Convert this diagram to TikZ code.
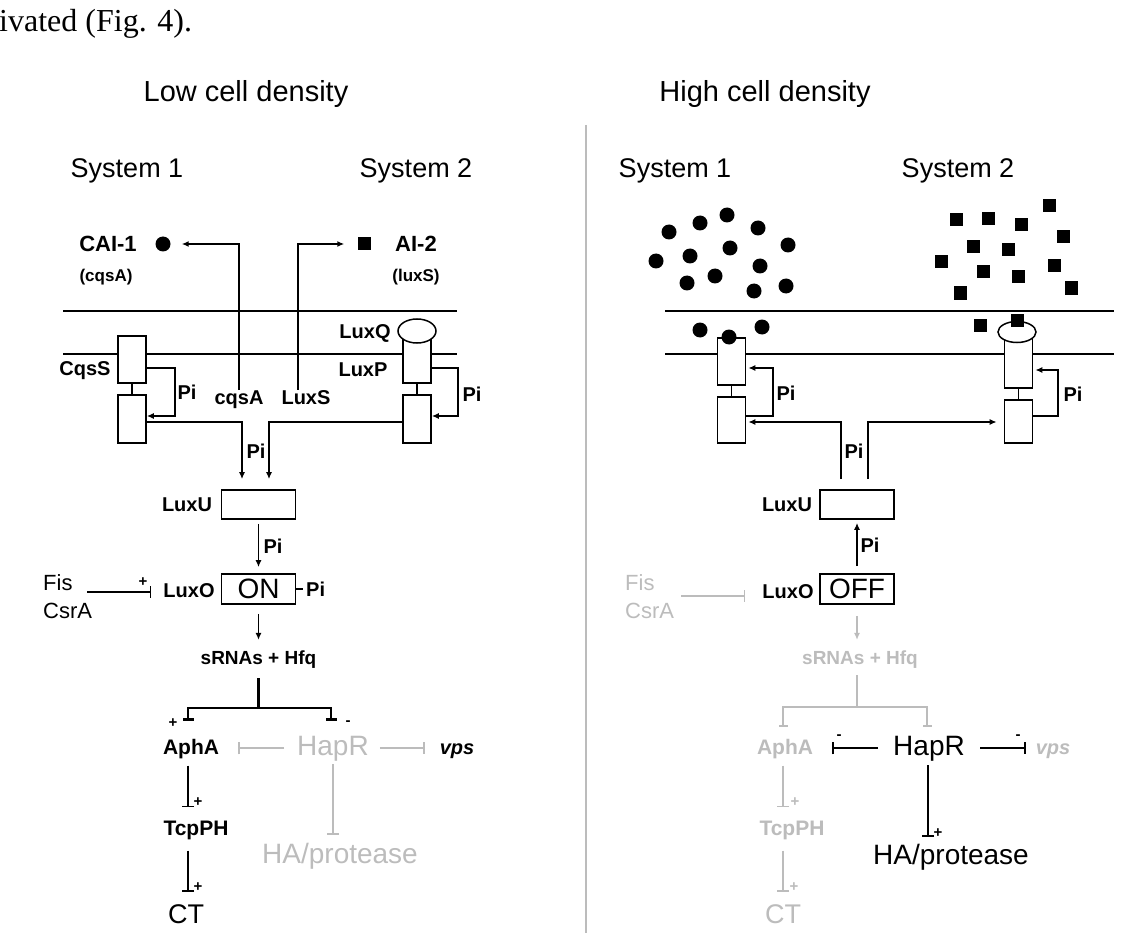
\documentclass[tikz,border=0pt]{standalone}
\usepackage{fontspec}
\setmainfont{Liberation Sans}
\newfontfamily\serifpg{Liberation Serif}
\usetikzlibrary{arrows.meta,calc,shapes.geometric}
\definecolor{lg}{RGB}{188,188,188}
\newcommand\fsz[1]{\fontsize{#1}{#1}\selectfont}
\tikzset{
  lbl/.style={inner sep=0pt, font=\fsz{20}\bfseries},
  rlbl/.style={inner sep=0pt},
  bx/.style={draw, line width=1.6pt, fill=white, inner sep=0pt, minimum width=28pt, minimum height=47pt},
  bigbx/.style={draw, line width=1.7pt, fill=white, inner sep=0pt, minimum width=74pt, minimum height=30pt},
  ln/.style={line width=1.6pt},
  arr/.style={ln, -{Latex[length=7pt,width=6pt]}},
  inh/.style={ln, -{Bar[width=12pt,line width=1.6pt]}},
  tb/.style={line width=2.6pt, {Bar[width=11pt,line width=2.6pt]}-{Bar[width=11pt,line width=2.6pt]}},
  thb/.style={ln, {Bar[width=9pt,line width=1.6pt]}-{Bar[width=9pt,line width=1.6pt]}},
  mem/.style={line width=2pt},
  dot/.style={circle, fill=black, inner sep=0pt, minimum size=15pt},
  sq/.style={rectangle, fill=black, inner sep=0pt, minimum size=13pt},
  sgn/.style={inner sep=0pt, font=\fsz{15}\bfseries},
}
\begin{document}
\begin{tikzpicture}[x=1pt,y=-1pt]
\useasboundingbox (0,0) rectangle (1140,933);

% header fragment and titles
\node[anchor=base west, inner sep=0pt, font=\serifpg\fsz{32}] (fig) at (-1,32) {ivated (Fig. 4).};
\node[anchor=base, rlbl, font=\fsz{29}] (lowt) at (246,102) {Low cell density};
\node[anchor=base, rlbl, font=\fsz{29}] (hight) at (765,102) {High cell density};
\coordinate (divtop) at (586,125);
\coordinate (divbot) at (586,933);
\draw[lg, line width=1.5pt] (divtop) -- (divbot);

% ================= LEFT PANEL =================
\node[anchor=base, rlbl, font=\fsz{27}] (ls1) at (127,178) {System 1};
\node[anchor=base, rlbl, font=\fsz{27}] (ls2) at (416,178) {System 2};

\node[anchor=base, rlbl, font=\fsz{22}\bfseries] (cai) at (108,252) {CAI-1};
\node[dot] (caid) at (163,244) {};
\node[anchor=base, rlbl, font=\fsz{17}\bfseries] (cqsAp) at (106,282) {(cqsA)};
\node[anchor=base, rlbl, font=\fsz{22}\bfseries] (ai2) at (416,252) {AI-2};
\node[sq] (ai2s) at (364,244) {};
\node[anchor=base, rlbl, font=\fsz{17}\bfseries] (luxSp) at (416,282) {(luxS)};

\coordinate (lm1a) at (63,311); \coordinate (lm1b) at (457,311);
\coordinate (lm2a) at (63,354); \coordinate (lm2b) at (457,354);
\draw[mem] (lm1a) -- (lm1b);
\draw[mem] (lm2a) -- (lm2b);

\node[bx] (cqsU) at (132,359.5) {};
\node[bx, minimum height=48pt] (cqsL) at (132,419) {};
\draw[ln] (cqsU.south) -- (cqsL.north);
\node[bx, minimum height=45pt] (luxPU) at (417,360.5) {};
\node[draw, ellipse, line width=1.5pt, fill=white, minimum width=38pt, minimum height=24pt, inner sep=0pt] (luxQe) at (417,331) {};
\node[bx, minimum height=48pt] (luxPL) at (417,419) {};
\draw[ln] (luxPU.south) -- (luxPL.north);

\node[lbl] (cqsSl) at (85,371) {CqsS};
\node[lbl] (luxQl) at (365,333) {LuxQ};
\node[lbl] (luxPl) at (363,370) {LuxP};
\node[lbl, anchor=base] (cqsAl) at (239,404) {cqsA};
\node[lbl, anchor=base] (luxSl) at (306,404) {LuxS};

\draw[arr, shorten >=11pt] (cqsAl.north) |- (caid);
\draw[arr, shorten >=13pt] ([xshift=-8pt]luxSl.north) |- (ai2s);

% Pi loops
\coordinate (pl1a) at (175,368); \coordinate (pl1b) at (175,416);
\draw[arr] (cqsU.east |- pl1a) -- (pl1a) -- (pl1b) -- (cqsL.east |- pl1b);
\coordinate (pr1a) at (458,368); \coordinate (pr1b) at (458,416);
\draw[arr] (luxPU.east |- pr1a) -- (pr1a) -- (pr1b) -- (luxPL.east |- pr1b);
\node[lbl] (lpi1) at (187,392) {Pi};
\node[lbl] (lpi2) at (472,394) {Pi};

% to LuxU
\node[bigbx, minimum height=29pt] (luxU) at (258.5,504.5) {};
\node[lbl] (luxUl) at (187,505) {LuxU};
\coordinate (o1) at (242,422); \coordinate (o2) at (269,422);
\draw[arr, shorten >=10pt] (cqsL.east |- o1) -- (o1) -- (o1 |- luxU.north);
\draw[arr, shorten >=10pt] (luxPL.west |- o2) -- (o2) -- (o2 |- luxU.north);
\node[lbl] (lpi3) at (256,451) {Pi};

% LuxO
\node[bigbx] (luxO) at (258.5,589) {\fsz{28}ON};
\node[lbl] (luxOl) at (189,591) {LuxO};
\draw[arr, shorten <=4pt, shorten >=6pt] (luxU) -- (luxO);
\node[lbl] (lpi4) at (273,546) {Pi};
\node[lbl, anchor=west] (lpi5) at (306,589) {Pi};
\draw[ln] (luxO.east) -- ([xshift=-3pt]lpi5.west);

\node[rlbl, font=\fsz{22}, anchor=west] (fis) at (43,583) {Fis};
\node[rlbl, font=\fsz{22}, anchor=west] (csra) at (43,611) {CsrA};
\coordinate (fisin) at (87,592);
\draw[inh, shorten >=12pt] (fisin) -- (luxOl.west |- fisin);
\node[sgn] (lplus1) at (143,582) {+};

% sRNAs
\node[lbl, font=\fsz{19}\bfseries] (srna) at (258.5,660) {sRNAs + Hfq};
\draw[arr, shorten <=9pt, shorten >=11pt] (luxO) -- (srna);
\coordinate (br) at (258.5,708);
\coordinate (brl) at (188,708); \coordinate (brr) at (331,708);
\coordinate (bl2) at (188,721); \coordinate (br2) at (331,721);
\draw[line width=2.6pt, shorten <=9pt] (srna.south) -- (br);
\draw[tb] (bl2) -- (brl) -- (brr) -- (br2);
\node[sgn] (lplus2) at (173,723) {+};
\node[sgn] (lminus1) at (348,723) {-};

% bottom row
\node[anchor=base, rlbl, font=\fsz{21}\bfseries] (aphA) at (191,754) {AphA};
\node[anchor=base, rlbl, font=\fsz{28}, text=lg] (hapr) at (333,755) {HapR};
\node[anchor=base, rlbl, font=\fsz{20}\bfseries\itshape] (vps) at (457,754) {vps};
\draw[inh, lg, shorten <=13pt, shorten >=19pt] (hapr.west) -- (hapr.west -| aphA.east);
\draw[inh, lg, shorten <=11pt, shorten >=15pt] (hapr.east) -- (hapr.east -| vps.west);
\node[anchor=base, rlbl, font=\fsz{28}, text=lg] (hapro) at (340,863) {HA/protease};
\draw[inh, lg, shorten <=3pt, shorten >=8pt] (hapr.south) -- (hapr.south |- hapro.north);

\node[anchor=base, rlbl, font=\fsz{21}\bfseries] (tcp) at (196,835) {TcpPH};
\node[anchor=base, rlbl, font=\fsz{27}] (ct) at (186,923) {CT};
\coordinate (lax) at (188,0);
\draw[inh, shorten <=7pt, shorten >=13pt] (aphA.south -| lax) -- (tcp.north -| lax);
\draw[inh, shorten <=11pt, shorten >=12pt] (tcp.south -| lax) -- (ct.north -| lax);
\node[sgn] (lplus3) at (198,802) {+};
\node[sgn] (lplus4) at (198,887) {+};

% ================= RIGHT PANEL =================
\node[anchor=base, rlbl, font=\fsz{27}] (rs1) at (675,178) {System 1};
\node[anchor=base, rlbl, font=\fsz{27}] (rs2) at (958,178) {System 2};

\coordinate (rm1a) at (665,311); \coordinate (rm1b) at (1114,311);
\coordinate (rm2a) at (665,354); \coordinate (rm2b) at (1114,354);
\draw[mem] (rm1a) -- (rm1b);
\draw[mem] (rm2a) -- (rm2b);

\node[bx] (r1U) at (731.5,361.5) {};
\node[bx, minimum height=46pt] (r1L) at (731.5,420) {};
\draw[ln] (r1U.south) -- (r1L.north);
\node[bx, minimum height=50pt] (r2U) at (1018.5,363) {};
\node[draw, ellipse, line width=1.5pt, fill=white, minimum width=38pt, minimum height=21pt, inner sep=0pt] (r2e) at (1017,332) {};
\node[bx, minimum height=43pt] (r2L) at (1018.5,421.5) {};
\draw[ln] (r2U.south) -- (r2L.north);

% signal molecules
\foreach \p [count=\i] in {(669,232),(700,223),(727,215),(758,228),(788,245),(656,261),(690,256),(730,248),(760,266),(687,283),(715,276),(754,291),(786,286),(700,330),(729,337),(762,327)}
  \node[dot] (cd\i) at \p {};
\foreach \p [count=\i] in {(956,220),(988,219),(1021,225),(1049,206),(1063,237),(973,247),(1008,250),(941,262),(983,272),(1018,277),(1054,266),(1071,288),(960,293),(980,325),(1017,320)}
  \node[sq] (sd\i) at \p {};

% Pi loops (reverse)
\coordinate (rp1a) at (773,416); \coordinate (rp1b) at (773,368);
\draw[arr, shorten >=2pt] (r1L.east |- rp1a) -- (rp1a) -- (rp1b) -- (r1U.east |- rp1b);
\coordinate (rp2a) at (1058,416); \coordinate (rp2b) at (1058,370);
\draw[arr, shorten >=2pt] (r2L.east |- rp2a) -- (rp2a) -- (rp2b) -- (r2U.east |- rp2b);
\node[lbl] (rpi1) at (786,393) {Pi};
\node[lbl] (rpi2) at (1073,394) {Pi};

% LuxU right
\node[bigbx, minimum height=29pt] (rluxU) at (857,504.5) {};
\node[lbl] (rluxUl) at (787,505) {LuxU};
\coordinate (ro1) at (841,422); \coordinate (ro2) at (868,422);
\draw[arr, shorten <=10pt, shorten >=2pt] (ro1 |- rluxU.north) -- (ro1) -- (r1L.east |- ro1);
\draw[arr, shorten <=10pt, shorten >=7pt] (ro2 |- rluxU.north) -- (ro2) -- (r2L.west |- ro2);
\node[lbl] (rpi3) at (854,451) {Pi};

\node[bigbx] (rluxO) at (857,589) {\fsz{28}OFF};
\node[lbl] (rluxOl) at (788,592) {LuxO};
\draw[arr, shorten <=7pt, shorten >=3pt] (rluxO) -- (rluxU);
\node[lbl] (rpi4) at (870,545) {Pi};

\node[rlbl, font=\fsz{22}, text=lg, anchor=west] (rfis) at (625,583) {Fis};
\node[rlbl, font=\fsz{22}, text=lg, anchor=west] (rcsra) at (625,611) {CsrA};
\coordinate (rfisin) at (681,596);
\draw[inh, lg, shorten >=17pt] (rfisin) -- (rluxOl.west |- rfisin);

\node[lbl, font=\fsz{19}\bfseries, text=lg] (rsrna) at (860,660) {sRNAs + Hfq};
\draw[arr, lg, shorten <=11pt, shorten >=11pt] (rluxO.south) -- (rluxO.south |- rsrna.north);
\coordinate (rbr) at (857,707);
\coordinate (rbrl) at (783,707); \coordinate (rbrr) at (927,707);
\coordinate (rbl2) at (783,727); \coordinate (rbr2) at (927,727);
\draw[ln, lg, shorten <=6pt] (rsrna.south -| rbr) -- (rbr);
\draw[thb, lg] (rbl2) -- (rbrl) -- (rbrr) -- (rbr2);

\node[anchor=base, rlbl, font=\fsz{21}\bfseries, text=lg] (raphA) at (785,754) {AphA};
\node[anchor=base, rlbl, font=\fsz{28}] (rhapr) at (929,755) {HapR};
\node[anchor=base, rlbl, font=\fsz{20}\bfseries\itshape, text=lg] (rvps) at (1053,754) {vps};
\draw[inh, shorten <=15pt, shorten >=19pt] (rhapr.west) -- (rhapr.west -| raphA.east);
\draw[inh, shorten <=15pt, shorten >=10pt] (rhapr.east) -- (rhapr.east -| rvps.west);
\node[sgn] (rminus1) at (839,737) {-};
\node[sgn] (rminus2) at (1018,737) {-};
\node[anchor=base, rlbl, font=\fsz{28}] (rhapro) at (951,864) {HA/protease};
\coordinate (rhx) at (928,0);
\draw[inh, shorten <=4pt, shorten >=7pt] (rhapr.south -| rhx) -- (rhapro.north -| rhx);
\node[sgn] (rplus1) at (938,833) {+};

\node[anchor=base, rlbl, font=\fsz{21}\bfseries, text=lg] (rtcp) at (792,835) {TcpPH};
\node[anchor=base, rlbl, font=\fsz{27}, text=lg] (rct) at (783,923) {CT};
\coordinate (rax) at (783,0);
\draw[inh, lg, shorten <=7pt, shorten >=13pt] (raphA.south -| rax) -- (rtcp.north -| rax);
\draw[inh, lg, shorten <=11pt, shorten >=12pt] (rtcp.south -| rax) -- (rct.north -| rax);
\node[sgn, text=lg] (rplus2) at (795,802) {+};
\node[sgn, text=lg] (rplus3) at (794,887) {+};
\end{tikzpicture}
\end{document}
